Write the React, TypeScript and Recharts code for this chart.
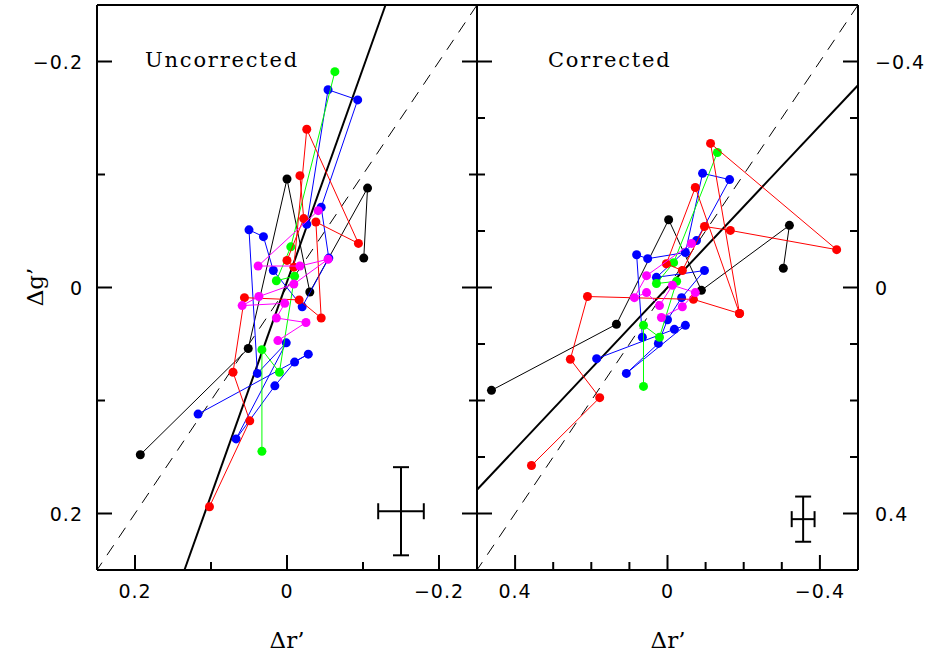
import React from 'react';
import { ScatterChart, Scatter, XAxis, YAxis, ReferenceLine, ErrorBar } from 'recharts';

type Pt = { x: number; y: number };

// ---------- Uncorrected panel (Δr', Δg') ----------
const uncBlack: Pt[] = [
  { x: 0.193, y: 0.148 }, { x: 0.051, y: 0.054 }, { x: 0.0, y: -0.096 },
  { x: -0.03, y: 0.004 }, { x: -0.106, y: -0.088 }, { x: -0.101, y: -0.026 },
];
const uncBlue: Pt[] = [
  { x: -0.026, y: -0.056 }, { x: -0.054, y: -0.175 }, { x: -0.093, y: -0.166 },
  { x: -0.045, y: -0.071 }, { x: -0.055, y: -0.026 }, { x: -0.02, y: 0.017 },
  { x: 0.018, y: -0.015 }, { x: 0.031, y: -0.045 }, { x: 0.05, y: -0.051 },
  { x: 0.039, y: 0.076 }, { x: 0.001, y: 0.049 }, { x: 0.067, y: 0.134 },
  { x: 0.016, y: 0.087 }, { x: -0.01, y: 0.066 }, { x: -0.028, y: 0.059 },
  { x: 0.117, y: 0.112 },
];
const uncGreen: Pt[] = [
  { x: -0.063, y: -0.191 }, { x: -0.005, y: -0.036 }, { x: 0.014, y: -0.006 },
  { x: -0.01, y: -0.01 }, { x: 0.01, y: 0.075 }, { x: 0.033, y: 0.055 },
  { x: 0.033, y: 0.145 },
];
const uncRed: Pt[] = [
  { x: 0.102, y: 0.194 }, { x: 0.049, y: 0.118 }, { x: 0.071, y: 0.075 },
  { x: 0.056, y: 0.009 }, { x: -0.016, y: 0.011 }, { x: -0.045, y: 0.027 },
  { x: -0.038, y: -0.058 }, { x: -0.094, y: -0.039 }, { x: -0.026, y: -0.14 },
  { x: -0.009, y: -0.018 }, { x: 0.0, y: -0.024 }, { x: -0.022, y: -0.061 },
  { x: -0.017, y: -0.099 },
];
const uncMagenta: Pt[] = [
  { x: -0.041, y: -0.068 }, { x: 0.038, y: -0.019 }, { x: -0.017, y: -0.019 },
  { x: -0.054, y: -0.025 }, { x: -0.009, y: -0.003 }, { x: 0.037, y: 0.008 },
  { x: 0.059, y: 0.016 }, { x: 0.003, y: 0.014 }, { x: 0.014, y: 0.027 },
  { x: -0.025, y: 0.031 }, { x: 0.012, y: 0.047 },
];

// ---------- Corrected panel ----------
const corBlack: Pt[] = [
  { x: 0.462, y: 0.182 }, { x: 0.134, y: 0.065 }, { x: -0.003, y: -0.12 },
  { x: -0.089, y: 0.005 }, { x: -0.32, y: -0.11 }, { x: -0.304, y: -0.034 },
];
const corBlue: Pt[] = [
  { x: 0.066, y: 0.088 }, { x: 0.081, y: -0.058 }, { x: 0.052, y: -0.051 },
  { x: -0.047, y: -0.062 }, { x: -0.092, y: -0.202 }, { x: -0.163, y: -0.191 },
  { x: -0.076, y: -0.083 }, { x: 0.029, y: -0.018 }, { x: -0.097, y: -0.03 },
  { x: -0.037, y: 0.018 }, { x: 0.0, y: 0.057 }, { x: 0.024, y: 0.099 },
  { x: 0.108, y: 0.152 }, { x: -0.047, y: 0.067 }, { x: -0.018, y: 0.074 },
  { x: 0.186, y: 0.126 },
];
const corGreen: Pt[] = [
  { x: 0.063, y: 0.175 }, { x: 0.063, y: 0.067 }, { x: 0.021, y: 0.088 },
  { x: -0.024, y: -0.011 }, { x: 0.029, y: -0.007 }, { x: -0.016, y: -0.044 },
  { x: -0.131, y: -0.239 },
];
const corRed: Pt[] = [
  { x: 0.357, y: 0.315 }, { x: 0.178, y: 0.195 }, { x: 0.255, y: 0.127 },
  { x: 0.21, y: 0.016 }, { x: -0.068, y: 0.021 }, { x: -0.189, y: 0.046 },
  { x: -0.113, y: -0.255 }, { x: -0.444, y: -0.067 }, { x: -0.165, y: -0.101 },
  { x: -0.097, y: -0.108 }, { x: -0.039, y: -0.03 }, { x: 0.003, y: -0.042 },
  { x: -0.073, y: -0.177 }, { x: -0.189, y: 0.046 },
];
const corMagenta: Pt[] = [
  { x: -0.063, y: -0.078 }, { x: 0.055, y: -0.021 }, { x: 0.087, y: 0.018 },
  { x: 0.055, y: 0.009 }, { x: 0.021, y: 0.032 }, { x: -0.013, y: -0.004 },
  { x: -0.073, y: 0.009 }, { x: -0.039, y: 0.034 }, { x: 0.016, y: 0.053 },
];

// axes
const uncDomain = [-0.25, 0.25];
const uncTicks = [-0.2, -0.1, 0, 0.1, 0.2];
const uncLabels = [-0.2, 0, 0.2];
const corDomain = [-0.5, 0.5];
const corTicks = [-0.4, -0.3, -0.2, -0.1, 0, 0.1, 0.2, 0.3, 0.4];
const corLabels = [-0.4, 0, 0.4];

// fitted relations  g = slope * r + intercept
const uncFit = { slope: 1.89, intercept: -0.005 };
const corFit = { slope: 0.716, intercept: 0 };

// typical error bars
const uncErr = [{ x: -0.15, y: 0.198, ex: 0.03, ey: 0.039 }];
const corErr = [{ x: -0.356, y: 0.41, ex: 0.03, ey: 0.04 }];

const COLORS = { black: '#000000', blue: '#0000ff', green: '#00ff00', red: '#ff0000', magenta: '#ff00ff' };

const TICK_FONT = "'DejaVu Sans', sans-serif";
const fmt = (v: number) => (Math.abs(v) < 1e-9 ? '0' : (v < 0 ? '\u2212' : '') + Math.abs(v).toFixed(1));

const makeTick = (orient: 'bottom' | 'top' | 'left' | 'right', labels: number[], show: boolean) => (p: any) => {
  const v = Number(p.payload.value);
  const major = labels.some((m) => Math.abs(m - v) < 1e-9);
  const len = major ? 15 : 8;
  const { x, y } = p;
  let line: any = null;
  let text: any = null;
  const tp = { fontFamily: TICK_FONT, fontSize: 19, fill: '#000', letterSpacing: 1 } as any;
  if (orient === 'bottom') {
    line = <line x1={x} y1={y} x2={x} y2={y - len} stroke="#000" strokeWidth={2} />;
    if (major && show) text = <text x={x} y={y + 28} textAnchor="middle" {...tp}>{fmt(v)}</text>;
  } else if (orient === 'top') {
    line = <line x1={x} y1={y} x2={x} y2={y + len} stroke="#000" strokeWidth={2} />;
  } else if (orient === 'left') {
    line = <line x1={x} y1={y} x2={x + len} y2={y} stroke="#000" strokeWidth={2} />;
    if (major && show) text = <text x={x - 14} y={y + 7} textAnchor="end" {...tp}>{fmt(v)}</text>;
  } else {
    line = <line x1={x} y1={y} x2={x - len} y2={y} stroke="#000" strokeWidth={2} />;
    if (major && show) text = <text x={x + 17} y={y + 7} textAnchor="start" {...tp}>{fmt(v)}</text>;
  }
  return <g>{line}{text}</g>;
};

const dot = (color: string) => (p: any) => <circle cx={p.cx} cy={p.cy} r={4.5} fill={color} />;

interface PanelProps {
  left: number;
  right: number;
  domain: number[];
  ticks: number[];
  labels: number[];
  showLeftLabels: boolean;
  showRightLabels: boolean;
  tracks: { data: Pt[]; color: string }[];
  fit: { slope: number; intercept: number };
  err: any[];
}

function Panel({ left, right, domain, ticks, labels, showLeftLabels, showRightLabels, tracks, fit, err }: PanelProps) {
  const [lo, hi] = domain;
  const pts: Pt[] = [];
  [lo, hi].forEach((gy) => {
    const rx = (gy - fit.intercept) / fit.slope;
    if (rx >= lo && rx <= hi) pts.push({ x: rx, y: gy });
  });
  [lo, hi].forEach((rx) => {
    const gy = fit.slope * rx + fit.intercept;
    if (gy > lo && gy < hi) pts.push({ x: rx, y: gy });
  });
  const ax = { stroke: '#000', strokeWidth: 2 };
  return (
    <div style={{ position: 'absolute', left: 0, top: 0 }}>
      <ScatterChart width={933} height={660} margin={{ top: 4, bottom: 89, left: left - 1, right: right - 1 }}>
        <XAxis xAxisId="b" type="number" dataKey="x" orientation="bottom" domain={domain} reversed allowDataOverflow
          ticks={ticks} interval={0} height={1} tickSize={0} tickMargin={0} axisLine={ax} tickLine={false}
          tick={makeTick('bottom', labels, true)} />
        <XAxis xAxisId="t" type="number" dataKey="x" orientation="top" domain={domain} reversed allowDataOverflow
          ticks={ticks} interval={0} height={1} tickSize={0} tickMargin={0} axisLine={ax} tickLine={false}
          tick={false} />
        <YAxis yAxisId="l" type="number" dataKey="y" orientation="left" domain={domain} reversed allowDataOverflow
          ticks={ticks} interval={0} width={1} tickSize={0} tickMargin={0} axisLine={ax} tickLine={false}
          tick={makeTick('left', labels, showLeftLabels)} />
        <YAxis yAxisId="r" type="number" dataKey="y" orientation="right" domain={domain} reversed allowDataOverflow
          ticks={ticks} interval={0} width={1} tickSize={0} tickMargin={0} axisLine={ax} tickLine={false}
          tick={makeTick('right', labels, showRightLabels)} />
        <ReferenceLine xAxisId="b" yAxisId="l" segment={[{ x: lo, y: lo }, { x: hi, y: hi }]}
          stroke="#000" strokeWidth={1} strokeDasharray="12 9" ifOverflow="visible" />
        {tracks.map((t, i) => (
          <Scatter key={i} xAxisId="b" yAxisId="l" data={t.data} fill={t.color}
            line={{ stroke: t.color, strokeWidth: 1 }} lineType="joint" shape={dot(t.color)}
            isAnimationActive={false} />
        ))}
        <ReferenceLine xAxisId="b" yAxisId="l" segment={[pts[0], pts[1]]}
          stroke="#000" strokeWidth={2} ifOverflow="visible" />
        <Scatter xAxisId="b" yAxisId="l" data={err} fill="#000" shape={() => <g />} isAnimationActive={false}>
          <ErrorBar dataKey="ex" direction="x" width={8} stroke="#000" strokeWidth={2} />
          <ErrorBar dataKey="ey" direction="y" width={8} stroke="#000" strokeWidth={2} />
        </Scatter>
      </ScatterChart>
    </div>
  );
}

export default function App() {
  const titleFont = "'DejaVu Serif', serif";
  return (
    <div style={{ position: 'absolute', left: 0, top: 0, width: 933, height: 660, background: '#fff' }}>
      <Panel left={97} right={456} domain={uncDomain} ticks={uncTicks} labels={uncLabels}
        showLeftLabels showRightLabels={false}
        tracks={[
          { data: uncBlack, color: COLORS.black },
          { data: uncBlue, color: COLORS.blue },
          { data: uncGreen, color: COLORS.green },
          { data: uncRed, color: COLORS.red },
          { data: uncMagenta, color: COLORS.magenta },
        ]}
        fit={uncFit} err={uncErr} />
      <Panel left={477} right={75} domain={corDomain} ticks={corTicks} labels={corLabels}
        showLeftLabels={false} showRightLabels
        tracks={[
          { data: corBlack, color: COLORS.black },
          { data: corBlue, color: COLORS.blue },
          { data: corGreen, color: COLORS.green },
          { data: corRed, color: COLORS.red },
          { data: corMagenta, color: COLORS.magenta },
        ]}
        fit={corFit} err={corErr} />
      <div style={{ position: 'absolute', left: 145, top: 48, fontFamily: titleFont, fontSize: 21, letterSpacing: 1.8 }}>Uncorrected</div>
      <div style={{ position: 'absolute', left: 548, top: 48, fontFamily: titleFont, fontSize: 21, letterSpacing: 1.8 }}>Corrected</div>
      <div style={{ position: 'absolute', left: 287, top: 627, transform: 'translateX(-50%)', fontFamily: titleFont, fontSize: 23 }}>Δr’</div>
      <div style={{ position: 'absolute', left: 668, top: 627, transform: 'translateX(-50%)', fontFamily: titleFont, fontSize: 23 }}>Δr’</div>
      <div style={{ position: 'absolute', left: 35, top: 287, transform: 'translate(-50%, -50%) rotate(-90deg)', fontFamily: titleFont, fontSize: 23, whiteSpace: 'nowrap' }}>Δg’</div>
    </div>
  );
}
